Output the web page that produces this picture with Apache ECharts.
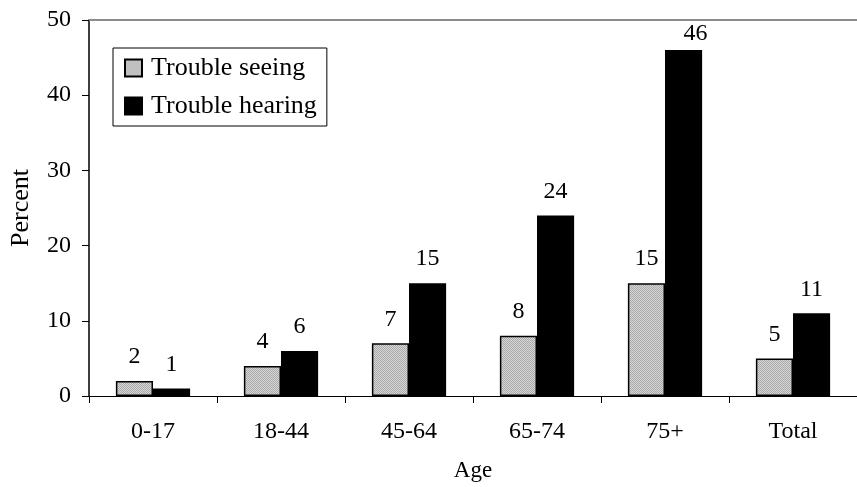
<!DOCTYPE html>
<html><head><meta charset="utf-8">
<script src="https://cdn.jsdelivr.net/npm/echarts@6/dist/echarts.min.js"></script>
<style>html,body{margin:0;padding:0;background:#fff}#c{width:857px;height:487px}</style>
</head><body><div id="c"></div>
<script>
const categories = ['0-17','18-44','45-64','65-74','75+','Total'];
const seeing = [2,4,7,8,15,5];
const hearing = [1,6,15,24,46,11];
const seriesNames = ['Trouble seeing','Trouble hearing'];

const pc = document.createElement('canvas');
pc.width = 2; pc.height = 2;
const ctx = pc.getContext('2d');
ctx.fillStyle = '#d8d8d8'; ctx.fillRect(0,0,2,2);
ctx.fillStyle = '#a8a8a8'; ctx.fillRect(0,0,1,1); ctx.fillRect(1,1,1,1);

const font = 'Liberation Serif';
const GRID_TOP = 20;
const chart = echarts.init(document.getElementById('c'), null, {renderer:'canvas'});
const lbl = {show:true, position:'top', distance:12, color:'#000', fontFamily:font, fontSize:24};
chart.setOption({
  animation:false,
  textStyle:{fontFamily:font},
  grid:{left:89, right:0, top:GRID_TOP, bottom:87, containLabel:false},
  legend:{
    left:113, top:48, orient:'vertical', icon:'rect', itemWidth:17, itemHeight:17, itemGap:12,
    borderColor:'#000', borderWidth:1, padding:[7,10,7,11],
    textStyle:{fontFamily:font, fontSize:26, color:'#000', padding:[0,0,0,4]},
    data:seriesNames
  },
  xAxis:[{
    type:'category', data:categories,
    axisLine:{lineStyle:{color:'#000', width:1}},
    axisTick:{show:true, length:7, lineStyle:{color:'#000'}},
    axisLabel:{color:'#000', fontFamily:font, fontSize:24, margin:24},
    name:'Age', nameLocation:'middle', nameGap:63,
    nameTextStyle:{color:'#000', fontFamily:font, fontSize:23}
  },{
    type:'category', data:categories, position:'top',
    axisLine:{show:true, lineStyle:{color:'#8c8c8c', width:2}},
    axisTick:{show:false}, axisLabel:{show:false}
  }],
  yAxis:{
    type:'value', min:0, max:50, interval:10,
    axisLine:{show:true, lineStyle:{color:'#000', width:1.5}},
    axisTick:{show:true, length:7, lineStyle:{color:'#000'}},
    splitLine:{show:false},
    axisLabel:{color:'#000', fontFamily:font, fontSize:24, margin:18},
    name:'Percent', nameLocation:'middle', nameGap:55,
    nameTextStyle:{color:'#000', fontFamily:font, fontSize:26}
  },
  series:[
    {name:seriesNames[0], type:'bar', data:seeing, barWidth:'29%', barGap:'0%',
     itemStyle:{color:{image:pc, repeat:'repeat'}, borderColor:'#000', borderWidth:1.5},
     label:lbl},
    {name:seriesNames[1], type:'bar', data:hearing, barWidth:'29%', barGap:'0%',
     itemStyle:{color:'#000', borderColor:'#000', borderWidth:1.5},
     label:lbl,
     labelLayout: function (p) {
       if (p.labelRect.y < GRID_TOP) { return {y: GRID_TOP + 2, verticalAlign:'top'}; }
       return {};
     }}
  ]
});
</script></body></html>
